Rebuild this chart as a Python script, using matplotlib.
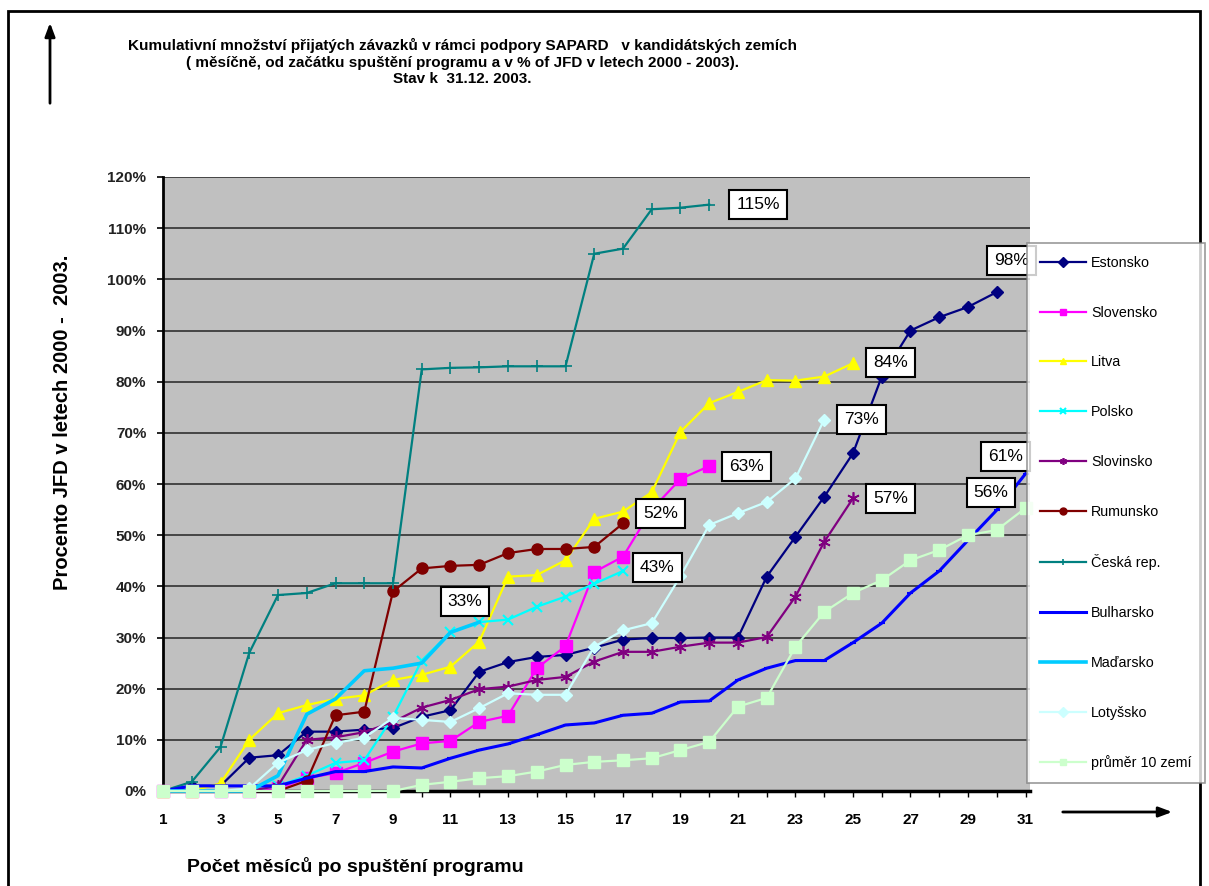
import matplotlib
matplotlib.use("Agg")
import matplotlib.pyplot as plt
from matplotlib.patches import Rectangle

plt.rcParams['font.family'] = ['Liberation Sans', 'DejaVu Sans']

# months after programme start
months = list(range(1, 32))

estonsko = [0, 1, 1, 6.5, 7, 11.6, 11.6, 12, 12.3, 14.5, 15.8, 23.3, 25.2, 26.2, 26.6, 28,
            29.6, 29.9, 29.9, 30, 30, 41.9, 49.7, 57.5, 66, 81, 90, 92.6, 94.6, 97.5]
slovensko = [0, 0, 0, 0, 0.5, 2.5, 3.5, 5.5, 7.7, 9.3, 9.8, 13.5, 14.7, 24, 28.3, 42.8,
             45.8, 55, 61, 63.5]
litva = [0, 0, 1.5, 10, 15.2, 16.8, 18, 18.7, 21.7, 22.7, 24.3, 29.2, 41.9, 42.2, 45.1,
         53.2, 54.6, 58.4, 70.2, 75.8, 78, 80.3, 80.2, 81, 83.6]
polsko = [0, 0, 0, 0, 1, 3, 5.5, 6, 14.5, 25.5, 31, 33, 33.5, 36, 38, 40.5, 43]
slovinsko = [0, 0, 0, 0, 1, 10, 10.5, 11.5, 13.5, 16.3, 17.8, 19.9, 20.4, 21.7, 22.3, 25.3,
             27.2, 27.2, 28.2, 29, 29, 30.1, 38, 48.7, 57.2]
rumunsko = [0, 0, 0, 0, 0, 2, 14.8, 15.5, 39, 43.5, 44, 44.2, 46.5, 47.3, 47.3, 47.7, 52.3]
ceska = [0, 1.8, 8.6, 27, 38.3, 38.7, 40.6, 40.6, 40.6, 82.4, 82.7, 82.8, 83, 83, 83, 105,
         106, 113.7, 114, 114.6]
bulharsko = [0, 1, 1, 1, 1, 2.5, 3.8, 3.8, 4.7, 4.5, 6.4, 8, 9.2, 11, 12.9, 13.3, 14.8, 15.2,
             17.4, 17.6, 21.7, 24, 25.5, 25.5, 29, 32.8, 38.7, 43, 49, 54.9, 62]
madarsko = [0, 0, 0, 0, 3, 15, 18, 23.5, 24, 25, 31, 33]
lotyssko = [0, 0, 0, 0.5, 5.5, 8, 9.4, 10.4, 14.3, 13.9, 13.5, 16.2, 19.1, 18.8, 18.8, 28.2,
            31.4, 32.8, 42, 52, 54.3, 56.5, 61.1, 72.6]
prumer = [0, 0, 0, 0, 0, 0, 0, 0, 0, 1.2, 1.8, 2.5, 2.9, 3.8, 5.1, 5.7, 6, 6.4, 8, 9.6, 16.5,
          18.2, 28.2, 35, 38.7, 41.2, 45.1, 47.1, 50, 51, 55.3]

series = [
    ("Estonsko", estonsko, dict(color="#000080", marker="D", ms=6, lw=1.6)),
    ("Slovensko", slovensko, dict(color="#FF00FF", marker="s", ms=8, lw=1.6)),
    ("Litva", litva, dict(color="#FFFF00", marker="^", ms=8, lw=1.6)),
    ("Polsko", polsko, dict(color="#00FFFF", marker="x", ms=7, mew=1.5, lw=1.6)),
    ("Slovinsko", slovinsko, dict(color="#800080", marker=(6, 2, 0), ms=9, mew=1.2, lw=1.6)),
    ("Rumunsko", rumunsko, dict(color="#800000", marker="o", ms=8, lw=1.6)),
    ("Česká rep.", ceska, dict(color="#008080", marker="+", ms=9, mew=1.2, lw=1.6)),
    ("Bulharsko", bulharsko, dict(color="#0000FF", marker="_", ms=5, mew=1.5, lw=2.2)),
    ("Maďarsko", madarsko, dict(color="#00CCFF", marker="", lw=2.6)),
    ("Lotyšsko", lotyssko, dict(color="#CCFFFF", marker="D", ms=6, lw=1.6)),
    ("průměr 10 zemí", prumer, dict(color="#CCFFCC", marker="s", ms=8, lw=1.6)),
]

end_labels = ["115%", "98%", "84%", "73%", "63%", "57%", "61%", "56%", "52%", "43%", "33%"]
label_xy = [(21.7, 114.6), (30.5, 103.7), (26.3, 83.8), (25.3, 72.6), (21.3, 63.4),
            (26.3, 57.2), (30.3, 65.4), (29.8, 58.4), (18.3, 54.2), (18.2, 43.6), (11.5, 37.0)]

W, H = 1209, 886
fig = plt.figure(figsize=(W / 100, H / 100), dpi=100)
fig.patch.set_facecolor("white")
ax = fig.add_axes([163 / W, 1 - 791 / H, 867 / W, 614 / H])
ax.set_facecolor("#C0C0C0")

for name, vals, style in series:
    ax.plot(months[:len(vals)], vals, label=name, mec=style["color"], clip_on=False,
            zorder=3, **style)

ax.set_xlim(1, 1 + 867 / 28.75)
ax.set_ylim(0, 120)
ax.set_yticks(range(0, 121, 10))
ax.set_yticklabels([f"{v}%" for v in range(0, 121, 10)], fontsize=11, fontweight="bold",
                   color="#222222")
ax.set_xticks(months)
ax.set_xticklabels([str(m) if m % 2 else "" for m in months], fontsize=11,
                   fontweight="bold")
ax.tick_params(axis="y", length=4, width=1.2, pad=8, direction="out")
ax.tick_params(axis="x", length=4, width=1, pad=12, direction="out")
ax.yaxis.grid(True, color="#3c3c3c", lw=1.3, zorder=1)
ax.set_axisbelow(True)
for s in ["top", "right"]:
    ax.spines[s].set_visible(False)
ax.spines["left"].set_linewidth(2)
ax.spines["bottom"].set_linewidth(2.5)
ax.spines["bottom"].set_zorder(2)

for txt, (x, y) in zip(end_labels, label_xy):
    ax.text(x, y, txt, ha="center", va="center", fontsize=12.5, zorder=6,
            bbox=dict(boxstyle="square,pad=0.4", fc="white", ec="black", lw=1.5))

leg = fig.legend(loc="upper left", bbox_to_anchor=(1027 / W, 1 - 243 / H),
                 fontsize=10.3, frameon=True, fancybox=False, edgecolor="#808080",
                 labelspacing=2.5, handlelength=3.2, handletextpad=0.4,
                 borderpad=0.9, borderaxespad=0)
leg.get_frame().set_linewidth(1.2)
for h in leg.legend_handles:
    h.set_markersize(5)

# title
fig.text(462 / W, 1 - 62 / H,
         "Kumulativní množství přijatých závazků v rámci podpory SAPARD   v kandidátských zemích\n"
         "( měsíčně, od začátku spuštění programu a v % of JFD v letech 2000 - 2003).\n"
         "Stav k  31.12. 2003.",
         ha="center", va="center", fontsize=11, fontweight="bold", linespacing=1.25)

fig.text(63 / W, 1 - 422 / H, "Procento JFD v letech 2000 -  2003.", rotation=90,
         ha="center", va="center", fontsize=14.5, fontweight="bold")
fig.text(355 / W, 1 - 866 / H, "Počet měsíců po spuštění programu", ha="center",
         va="center", fontsize=14, fontweight="bold")

# arrows next to the axes
fig.add_artist(plt.Annotation("", xy=(50 / W, 1 - 20 / H), xytext=(50 / W, 1 - 106 / H),
                              xycoords="figure fraction", textcoords="figure fraction",
                              arrowprops=dict(arrowstyle="-|>,head_length=0.8,head_width=0.3",
                                              color="black", lw=2)))
fig.add_artist(plt.Annotation("", xy=(1175 / W, 1 - 812 / H), xytext=(1060 / W, 1 - 812 / H),
                              xycoords="figure fraction", textcoords="figure fraction",
                              arrowprops=dict(arrowstyle="-|>,head_length=0.8,head_width=0.3",
                                              color="black", lw=2)))

# frame round the whole picture
fig.add_artist(Rectangle((8 / W, -0.01), 1192 / W, 1.01 - 11 / H, transform=fig.transFigure,
                         fill=False, ec="black", lw=2))

fig.savefig("out.png", dpi=100)
